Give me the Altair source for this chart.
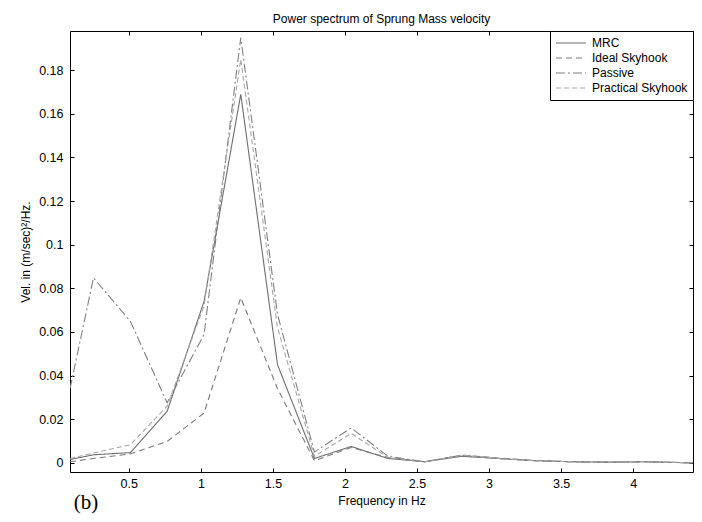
import altair as alt
import pandas as pd

freq = [0.092, 0.255, 0.511, 0.766, 1.022, 1.277, 1.532, 1.788, 2.043, 2.298,
        2.554, 2.809, 3.065, 3.320, 3.575, 3.831, 4.086, 4.341, 4.415]
mrc = [0.0015, 0.0037, 0.0047, 0.0236, 0.0740, 0.1690, 0.0450, 0.0020, 0.0075, 0.0020,
       0.0005, 0.0030, 0.0020, 0.0010, 0.0005, 0.0003, 0.0005, 0.0001, 0.0000]
ideal = [0.0005, 0.0020, 0.0041, 0.0098, 0.0228, 0.0757, 0.0340, 0.0010, 0.0070, 0.0025,
         0.0005, 0.0035, 0.0022, 0.0010, 0.0005, 0.0003, 0.0005, 0.0001, 0.0000]
passive = [0.0340, 0.0848, 0.0649, 0.0275, 0.0588, 0.1950, 0.0680, 0.0050, 0.0160, 0.0030,
           0.0005, 0.0035, 0.0020, 0.0010, 0.0005, 0.0003, 0.0005, 0.0001, 0.0000]
practical = [0.0020, 0.0045, 0.0083, 0.0260, 0.0720, 0.1850, 0.0620, 0.0030, 0.0135, 0.0025,
             0.0005, 0.0035, 0.0020, 0.0010, 0.0005, 0.0003, 0.0005, 0.0001, 0.0000]

series = ["MRC", "Ideal Skyhook", "Passive", "Practical Skyhook"]
x_ticks = [0.5, 1, 1.5, 2, 2.5, 3, 3.5, 4]
y_ticks = [0, 0.02, 0.04, 0.06, 0.08, 0.1, 0.12, 0.14, 0.16, 0.18]

rows = []
for name, vals in zip(series, [mrc, ideal, passive, practical]):
    for f, v in zip(freq, vals):
        rows.append({"f": f, "v": v, "s": name})
df = pd.DataFrame(rows)

FONT = "Liberation Sans"
xdom = [0.092, 4.415]
ydom = [-0.0042, 0.198]

base = alt.Chart(df)

legend = alt.Legend(title=None, orient="top-right", offset=0,
                    symbolType="stroke", symbolSize=900, symbolStrokeWidth=1.2,
                    clipHeight=14, rowPadding=1,
                    labelFont=FONT, labelFontSize=12, labelColor="black",
                    padding=5, strokeColor="black", fillColor="white",
                    labelOffset=5)

lines = base.mark_line(strokeWidth=1.1, clip=True).encode(
    x=alt.X("f:Q", scale=alt.Scale(domain=xdom, nice=False, zero=False),
            axis=alt.Axis(values=x_ticks, format="~g", title="Frequency in Hz",
                          domain=False, offset=-4, tickSize=4, labelPadding=5,
                          grid=False, titlePadding=6)),
    y=alt.Y("v:Q", scale=alt.Scale(domain=ydom, nice=False, zero=False),
            axis=alt.Axis(values=y_ticks, format="~g",
                          title="Vel. in (m/sec)²/Hz.",
                          domain=False, offset=-4, tickSize=4, labelPadding=7,
                          grid=False, titlePadding=6)),
    color=alt.Color("s:N", sort=series,
                    scale=alt.Scale(domain=series,
                                    range=["#6e6e6e", "#7a7a7a", "#808080", "#a6a6a6"]),
                    legend=legend),
    strokeDash=alt.StrokeDash("s:N", sort=series,
                              scale=alt.Scale(domain=series,
                                              range=[[1, 0], [6, 4], [9, 3, 2, 3], [5, 3]]),
                              legend=legend),
)

frame_axes = base.mark_line(opacity=0).encode(
    x=alt.X("f:Q", scale=alt.Scale(domain=xdom, nice=False, zero=False),
            axis=alt.Axis(orient="top", values=x_ticks, labels=False, title=None,
                          domain=False, offset=-4, tickSize=4, grid=False)),
    y=alt.Y("v:Q", scale=alt.Scale(domain=ydom, nice=False, zero=False),
            axis=alt.Axis(orient="right", values=y_ticks, labels=False, title=None,
                          domain=False, offset=-4, tickSize=4, grid=False)),
)

label_b = alt.Chart(pd.DataFrame({"t": ["(b)"]})).mark_text(
    font="Liberation Serif", fontSize=21, align="center", baseline="middle",
    color="black"
).encode(text="t:N", x=alt.value(16), y=alt.value(472))

chart = alt.layer(lines, frame_axes, label_b).resolve_scale(
    x="shared", y="shared"
).resolve_axis(x="independent", y="independent").properties(
    width=623, height=441,
    title=alt.TitleParams("Power spectrum of Sprung Mass velocity", font=FONT,
                          fontSize=12, fontWeight="normal", color="black", offset=5),
    autosize=alt.AutoSizeParams(type="none"),
    padding={"left": 62, "top": 23, "right": 1, "bottom": 42},
    background="white",
).configure_axis(
    labelFont=FONT, labelFontSize=12.5, labelColor="black", tickColor="black",
    titleFont=FONT, titleFontSize=12, titleFontWeight="normal", titleColor="black",
).configure_view(stroke="black", strokeWidth=1)

chart.save("out.html", embed_options={"renderer": "svg", "actions": False})
